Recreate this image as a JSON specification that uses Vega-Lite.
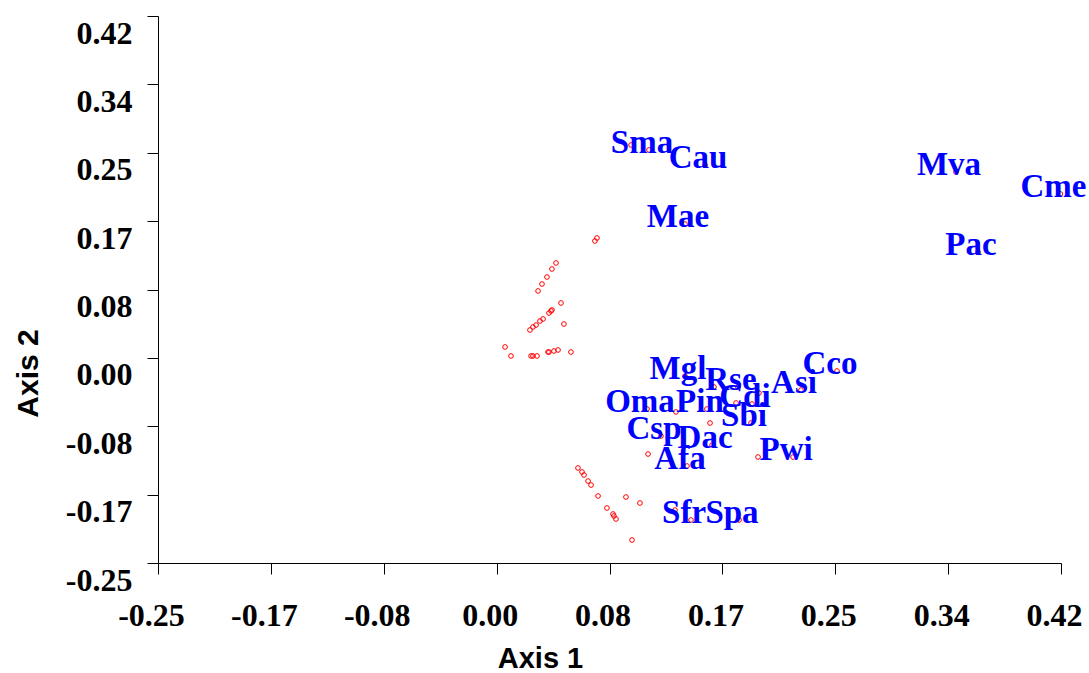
{
  "$schema": "https://vega.github.io/schema/vega-lite/v6.json",
  "width": 903,
  "height": 547,
  "autosize": {"type": "none"},
  "padding": {"left": 158, "top": 16, "right": 28, "bottom": 110},
  "background": "white",
  "config": {
    "view": {"stroke": null},
    "axis": {
      "grid": false,
      "domainColor": "black",
      "domainWidth": 1,
      "tickColor": "black",
      "tickSize": 11,
      "labelFont": "Liberation Serif",
      "labelFontWeight": "bold",
      "labelFontSize": 32,
      "labelColor": "black",
      "labelFlush": false,
      "labelOverlap": false,
      "titleFont": "Liberation Sans",
      "titleFontWeight": "bold",
      "titleColor": "black"
    }
  },
  "datasets": {
    "pts": [
      {"x": 0.1137, "y": 0.2553, "label": "Sma"},
      {"x": 0.1553, "y": 0.2369, "label": "Cau"},
      {"x": 0.1404, "y": 0.1646, "label": "Mae"},
      {"x": 0.3415, "y": 0.2283, "label": "Mva"},
      {"x": 0.4190, "y": 0.2014, "label": "Cme"},
      {"x": 0.3578, "y": 0.1303, "label": "Pac"},
      {"x": 0.2532, "y": -0.0154, "label": "Cco"},
      {"x": 0.1404, "y": -0.0216, "label": "Mgl"},
      {"x": 0.1797, "y": -0.0350, "label": "Rse"},
      {"x": 0.1901, "y": -0.0559, "label": "Cdi"},
      {"x": 0.2265, "y": -0.0387, "label": "Asi"},
      {"x": 0.1122, "y": -0.0620, "label": "Oma"},
      {"x": 0.1567, "y": -0.0620, "label": "Pin"},
      {"x": 0.1894, "y": -0.0791, "label": "Sbi"},
      {"x": 0.1226, "y": -0.0950, "label": "Csp"},
      {"x": 0.1605, "y": -0.1061, "label": "Dac"},
      {"x": 0.1419, "y": -0.1318, "label": "Afa"},
      {"x": 0.2206, "y": -0.1208, "label": "Pwi"},
      {"x": 0.1449, "y": -0.1979, "label": "Sfr"},
      {"x": 0.1805, "y": -0.1979, "label": "Spa"},
      {"x": 0.1004, "y": 0.2614, "label": ""},
      {"x": 0.1619, "y": -0.0350, "label": ""},
      {"x": 0.1953, "y": -0.0424, "label": ""},
      {"x": 0.1783, "y": -0.0546, "label": ""},
      {"x": 0.1337, "y": -0.0656, "label": ""},
      {"x": 0.1590, "y": -0.0791, "label": ""},
      {"x": 0.1130, "y": -0.1171, "label": ""},
      {"x": 0.1946, "y": -0.1208, "label": ""},
      {"x": 0.1330, "y": -0.1857, "label": ""},
      {"x": 0.0736, "y": 0.1438, "label": ""},
      {"x": 0.0751, "y": 0.1475, "label": ""},
      {"x": 0.0447, "y": 0.1169, "label": ""},
      {"x": 0.0417, "y": 0.1095, "label": ""},
      {"x": 0.0380, "y": 0.0997, "label": ""},
      {"x": 0.0343, "y": 0.0911, "label": ""},
      {"x": 0.0314, "y": 0.0826, "label": ""},
      {"x": 0.0484, "y": 0.0679, "label": ""},
      {"x": 0.0395, "y": 0.0556, "label": ""},
      {"x": 0.0410, "y": 0.0581, "label": ""},
      {"x": 0.0417, "y": 0.0593, "label": ""},
      {"x": 0.0351, "y": 0.0483, "label": ""},
      {"x": 0.0328, "y": 0.0458, "label": ""},
      {"x": 0.0299, "y": 0.0409, "label": ""},
      {"x": 0.0276, "y": 0.0385, "label": ""},
      {"x": 0.0254, "y": 0.0348, "label": ""},
      {"x": 0.0506, "y": 0.0421, "label": ""},
      {"x": 0.0069, "y": 0.0140, "label": ""},
      {"x": 0.0113, "y": 0.0030, "label": ""},
      {"x": 0.0262, "y": 0.0030, "label": ""},
      {"x": 0.0276, "y": 0.0030, "label": ""},
      {"x": 0.0306, "y": 0.0030, "label": ""},
      {"x": 0.0388, "y": 0.0078, "label": ""},
      {"x": 0.0395, "y": 0.0078, "label": ""},
      {"x": 0.0432, "y": 0.0091, "label": ""},
      {"x": 0.0462, "y": 0.0103, "label": ""},
      {"x": 0.0558, "y": 0.0078, "label": ""},
      {"x": 0.0610, "y": -0.1342, "label": ""},
      {"x": 0.0640, "y": -0.1391, "label": ""},
      {"x": 0.0655, "y": -0.1428, "label": ""},
      {"x": 0.0685, "y": -0.1502, "label": ""},
      {"x": 0.0707, "y": -0.1551, "label": ""},
      {"x": 0.0759, "y": -0.1685, "label": ""},
      {"x": 0.0966, "y": -0.1698, "label": ""},
      {"x": 0.1070, "y": -0.1771, "label": ""},
      {"x": 0.0825, "y": -0.1832, "label": ""},
      {"x": 0.0870, "y": -0.1906, "label": ""},
      {"x": 0.0877, "y": -0.1930, "label": ""},
      {"x": 0.0892, "y": -0.1967, "label": ""},
      {"x": 0.1011, "y": -0.2224, "label": ""}
    ]
  },
  "encoding": {
    "x": {
      "type": "quantitative",
      "scale": {"domain": [-0.2506, 0.4194], "nice": false, "zero": false},
      "axis": {
        "title": "Axis 1",
        "titleFontSize": 29,
        "values": [-0.2506, -0.16685, -0.0831, 0.00065, 0.0844, 0.16815, 0.2519, 0.33565, 0.4194],
        "labelExpr": "replace(format(datum.value, '.2f'), '\u2212', '-')",
        "labelPadding": 26,
        "labelBaseline": "top",
        "labelOffset": -7,
        "titleX": 382,
        "titleY": 104,
        "titleBaseline": "alphabetic",
        "titleAlign": "center"
      }
    },
    "y": {
      "type": "quantitative",
      "scale": {"domain": [-0.2506, 0.4194], "nice": false, "zero": false},
      "axis": {
        "title": "Axis 2",
        "titleFontSize": 30,
        "values": [-0.2506, -0.16685, -0.0831, 0.00065, 0.0844, 0.16815, 0.2519, 0.33565, 0.4194],
        "labelExpr": "replace(format(datum.value, '.2f'), '\u2212', '-')",
        "labelPadding": 15,
        "labelBaseline": "top",
        "labelOffset": 2,
        "titleX": -121,
        "titleY": 357,
        "titleAngle": -90,
        "titleBaseline": "alphabetic",
        "titleAlign": "center"
      }
    }
  },
  "layer": [
    {
      "mark": {"type": "rule", "color": "black", "strokeWidth": 1.5},
      "encoding": {"y": {"datum": 0, "type": "quantitative"}, "x": null}
    },
    {
      "mark": {"type": "rule", "color": "black", "strokeWidth": 1},
      "encoding": {"x": {"datum": 0, "type": "quantitative"}, "y": null}
    },
    {
      "data": {"name": "pts"},
      "mark": {"type": "point", "shape": "circle", "filled": false, "color": "#ff0000", "size": 22, "strokeWidth": 1, "opacity": 1},
      "encoding": {"x": {"field": "x"}, "y": {"field": "y"}}
    },
    {
      "data": {"name": "pts"},
      "transform": [{"filter": "datum.label != ''"}],
      "mark": {"type": "text", "font": "Liberation Serif", "fontWeight": "bold", "fontSize": 33, "color": "#0000ff", "align": "center", "baseline": "alphabetic", "dx": -7, "dy": 3},
      "encoding": {"x": {"field": "x"}, "y": {"field": "y"}, "text": {"field": "label"}}
    }
  ]
}
